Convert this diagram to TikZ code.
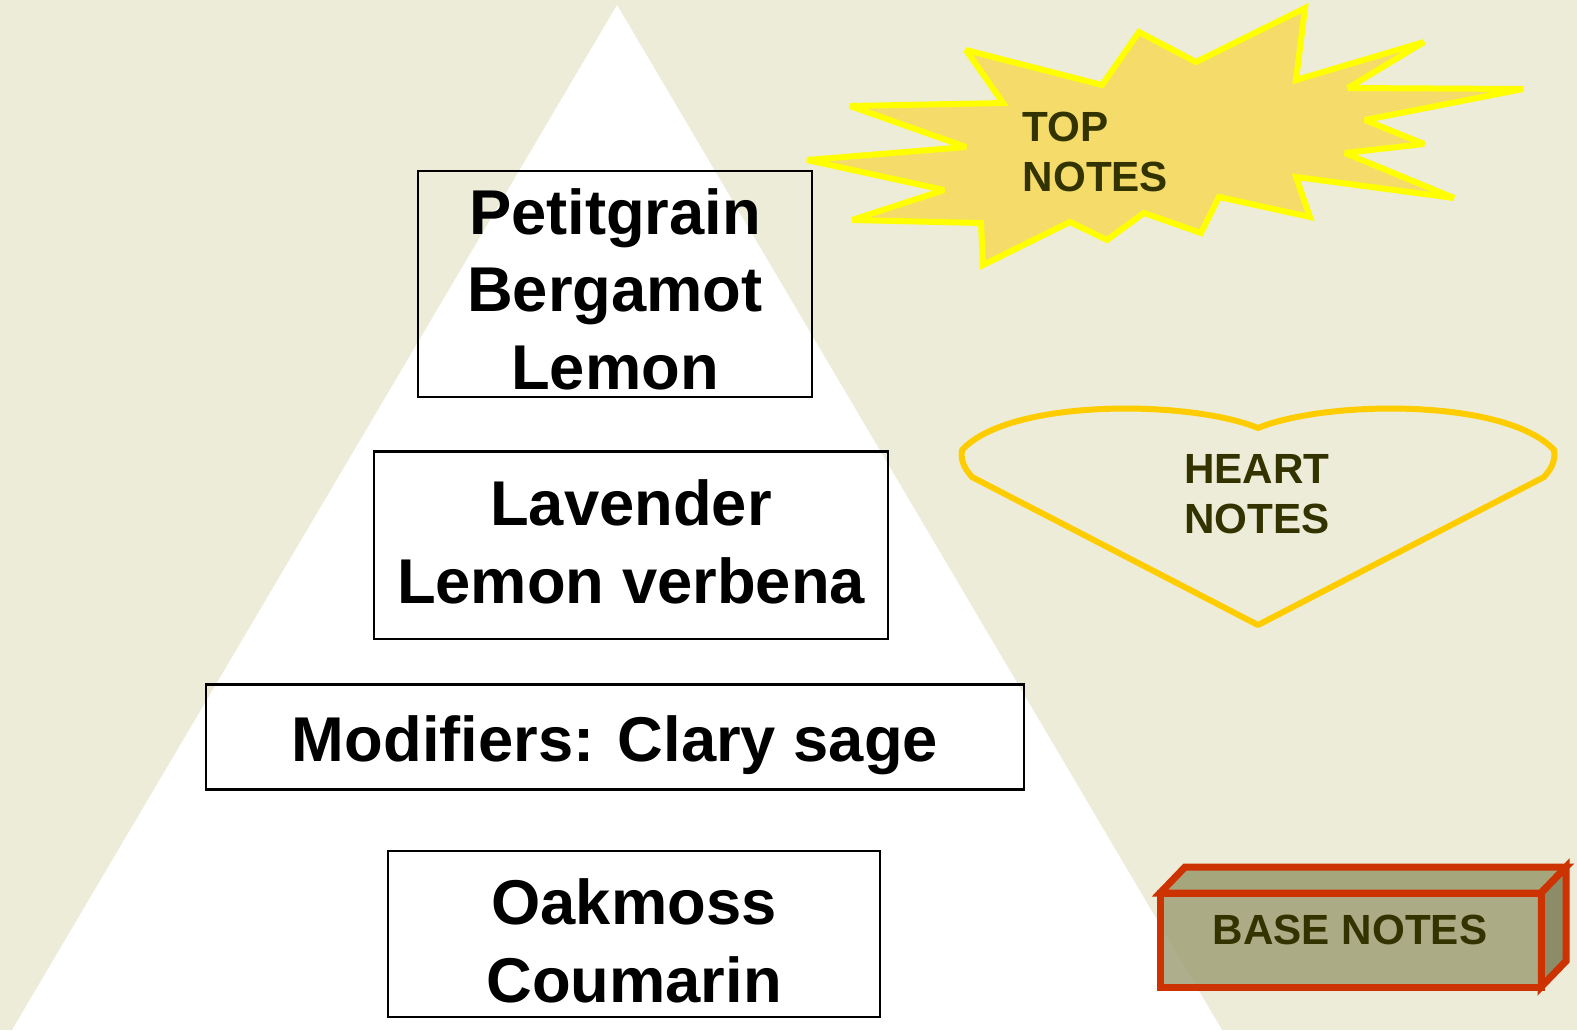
\documentclass[tikz,border=0pt]{standalone}
\usepackage{fontspec}
\setmainfont{Liberation Sans}
\usepackage{xcolor}
\usepackage{tikz}
\usetikzlibrary{calc, positioning}

\definecolor{bgbeige}{RGB}{236,236,216}
\definecolor{notetext}{RGB}{51,51,0}
\definecolor{burstfill}{RGB}{245,220,106}
\definecolor{burstline}{RGB}{255,255,0}
\definecolor{heartline}{RGB}{255,204,0}
\definecolor{boxfront}{RGB}{160,160,120}
\definecolor{boxtop}{RGB}{154,154,108}
\definecolor{boxside}{RGB}{124,124,86}
\definecolor{boxline}{RGB}{204,51,0}

\begin{document}
\begin{tikzpicture}[x=0.01cm, y=-0.01cm]
	\tikzstyle{ingredient} = [draw=black, line width=0.6pt, rectangle, inner sep=0pt]
	\tikzstyle{ingtext} = [draw=none, align=center, inner sep=0pt, font=\bfseries\fontsize{18}{22}\selectfont]
	\tikzstyle{notelabel} = [draw=none, inner sep=0pt, text=notetext, font=\bfseries\fontsize{12}{14.4}\selectfont]
	\tikzstyle{burst} = [draw=burstline, fill=burstfill, line width=1.7pt, line join=miter, miter limit=2.5]
	\tikzstyle{heart} = [draw=heartline, line width=1.7pt, line join=round]
	\tikzstyle{boxface} = [draw=boxline, line width=2pt, line join=miter, fill opacity=0.85]

	% background and pyramid
	\fill[bgbeige] (0,0) rectangle (1577,1030);
	\useasboundingbox (0,0) rectangle (1577,1030);
	\fill[white] (617,5) -- (12,1030) -- (1222,1030) -- cycle;

	% ingredients
	\node[ingredient, minimum width=3.93cm, minimum height=2.26cm]	at (615, 284)	(top)	{};
	\node[ingredient, minimum width=5.14cm, minimum height=1.87cm]	at (631, 545)	(heart)	{};
	\node[ingredient, minimum width=8.17cm, minimum height=1.05cm]	at (615, 737)	(mod)	{};
	\node[ingredient, minimum width=4.91cm, minimum height=1.66cm]	at (634, 934)	(base)	{};
	\node[ingtext]	at ($(top)+(0,5)$)		(toptxt)	{Petitgrain\\Bergamot\\Lemon};
	\node[ingtext]	at ($(heart)+(0,-3)$)	(hearttxt)	{Lavender\\Lemon verbena};
	\node[ingtext]	at ($(mod)+(0,8)$)		(modtxt)	{Modifiers: Clary sage};
	\node[ingtext]	at ($(base)+(0,7)$)		(basetxt)	{Oakmoss\\Coumarin};

	% top notes
	\draw[burst] (966,50) -- (1102,85) -- (1139,32) -- (1196,62) -- (1305,8) -- (1296,80)
		-- (1424,42) -- (1348,88) -- (1523,89) -- (1365,120) -- (1424,144) -- (1345,153)
		-- (1454,198) -- (1296,177) -- (1310,217) -- (1219,197) -- (1201,233) -- (1144,213)
		-- (1107,240) -- (1070,222) -- (983,265) -- (981,223) -- (852,220) -- (944,190)
		-- (807,160) -- (966,147) -- (850,106) -- (1003,103) -- cycle;
	\node[notelabel, anchor=west, align=left]	at (1022, 152)	(toplbl)	{TOP\\NOTES};

	% heart notes
	\draw[heart] (1258,428) .. controls (1190,400) and (1010,398) .. (962,450)
		.. controls (960,462) and (966,470) .. (972,477) -- (1258,625) -- (1544,477)
		.. controls (1550,470) and (1556,462) .. (1554,450)
		.. controls (1506,398) and (1326,400) .. cycle;
	\node[notelabel, align=center]	at (1257, 494)	(heartlbl)	{HEART\\NOTES};

	% base notes
	\draw[boxface, fill=boxtop] (1160,893) -- (1185,867) -- (1566,867) -- (1541,893) -- cycle;
	\draw[boxface, fill=boxside] (1541,893) -- (1566,867) -- (1566,961) -- (1541,987) -- cycle;
	\draw[boxface, fill=boxfront] (1160,893) rectangle (1541,987);
	\node[notelabel]	at (1350, 930)	(baselbl)	{BASE NOTES};
\end{tikzpicture}
\end{document}
